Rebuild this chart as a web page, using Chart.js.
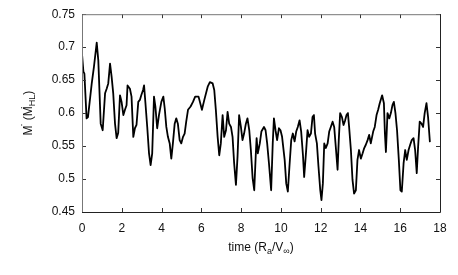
<!DOCTYPE html>
<html>
<head>
<meta charset="utf-8">
<script src="https://cdn.jsdelivr.net/npm/chart.js@4/dist/chart.umd.min.js"></script>
<style>
html, body { margin: 0; padding: 0; background: #fff; }
#wrap { width: 458px; height: 275px; }
</style>
</head>
<body>
<div id="wrap"><canvas id="c"></canvas></div>
<script>
"use strict";

/*global Chart*/

// time in R_a / V_inf
var times = [0.00, 0.07, 0.12, 0.23, 0.30, 0.49, 0.60, 0.74, 0.82, 0.94, 1.04, 1.16, 1.24, 1.32, 1.41, 1.49,
    1.57, 1.66, 1.74, 1.82, 1.91, 1.99, 2.08, 2.16, 2.24, 2.29, 2.41, 2.49, 2.58, 2.66, 2.74, 2.83,
    2.91, 2.98, 3.07, 3.12, 3.19, 3.28, 3.37, 3.45, 3.53, 3.62, 3.69, 3.78, 3.87, 3.99, 4.09, 4.16,
    4.24, 4.32, 4.41, 4.49, 4.57, 4.66, 4.74, 4.82, 4.91, 4.99, 5.08, 5.16, 5.24, 5.33, 5.46, 5.58,
    5.69, 5.86, 6.03, 6.15, 6.32, 6.43, 6.57, 6.65, 6.73, 6.82, 6.90, 6.98, 7.07, 7.15, 7.24, 7.32,
    7.40, 7.49, 7.57, 7.65, 7.74, 7.82, 7.90, 7.99, 8.07, 8.15, 8.24, 8.32, 8.41, 8.49, 8.58, 8.66,
    8.74, 8.78, 8.84, 8.94, 9.02, 9.15, 9.23, 9.31, 9.40, 9.51, 9.59, 9.65, 9.73, 9.81, 9.90, 9.98,
    10.06, 10.19, 10.27, 10.35, 10.43, 10.52, 10.60, 10.69, 10.77, 10.85, 10.94, 11.02, 11.11, 11.17,
    11.26, 11.34, 11.42, 11.51, 11.59, 11.66, 11.72, 11.81, 11.89, 11.98, 12.04, 12.11, 12.18, 12.26,
    12.35, 12.43, 12.51, 12.60, 12.68, 12.76, 12.85, 12.91, 12.98, 13.07, 13.15, 13.23, 13.30, 13.37,
    13.43, 13.52, 13.60, 13.68, 13.77, 13.85, 13.93, 14.02, 14.11, 14.19, 14.27, 14.36, 14.44, 14.52,
    14.64, 14.72, 14.81, 14.89, 14.97, 15.09, 15.18, 15.23, 15.28, 15.36, 15.45, 15.53, 15.61, 15.68,
    15.76, 15.84, 15.93, 16.01, 16.08, 16.17, 16.25, 16.33, 16.42, 16.50, 16.58, 16.67, 16.75, 16.83,
    16.90, 16.98, 17.07, 17.15, 17.23, 17.32, 17.40, 17.49];

// accretion rate in units of the Hoyle-Lyttleton rate
var mdot = [0.690, 0.663, 0.660, 0.592, 0.594, 0.645, 0.670, 0.707, 0.680, 0.584, 0.574, 0.630, 0.637, 0.645, 0.675, 0.655,
    0.630, 0.584, 0.562, 0.570, 0.627, 0.617, 0.597, 0.605, 0.612, 0.642, 0.637, 0.625, 0.564, 0.577, 0.582, 0.617,
    0.620, 0.627, 0.635, 0.642, 0.615, 0.579, 0.539, 0.521, 0.539, 0.625, 0.610, 0.577, 0.597, 0.617, 0.625, 0.607,
    0.579, 0.564, 0.554, 0.531, 0.554, 0.584, 0.592, 0.584, 0.559, 0.554, 0.564, 0.569, 0.587, 0.605, 0.610, 0.617,
    0.625, 0.625, 0.605, 0.620, 0.640, 0.647, 0.645, 0.635, 0.605, 0.564, 0.536, 0.554, 0.597, 0.564, 0.574, 0.602,
    0.584, 0.579, 0.564, 0.524, 0.491, 0.534, 0.597, 0.579, 0.559, 0.569, 0.584, 0.592, 0.574, 0.544, 0.501, 0.483,
    0.539, 0.562, 0.539, 0.554, 0.572, 0.579, 0.574, 0.554, 0.524, 0.483, 0.554, 0.592, 0.574, 0.559, 0.577, 0.574,
    0.564, 0.529, 0.493, 0.481, 0.519, 0.559, 0.569, 0.557, 0.572, 0.579, 0.589, 0.572, 0.536, 0.503,
    0.539, 0.574, 0.564, 0.569, 0.594, 0.597, 0.569, 0.554, 0.519, 0.483, 0.468, 0.493, 0.554, 0.547,
    0.554, 0.572, 0.579, 0.587, 0.579, 0.549, 0.514, 0.559, 0.600, 0.594, 0.582, 0.589, 0.597, 0.600,
    0.579, 0.544, 0.499, 0.478, 0.483, 0.529, 0.544, 0.531, 0.539, 0.547, 0.552, 0.559, 0.567, 0.554,
    0.572, 0.579, 0.597, 0.605, 0.615, 0.627, 0.615, 0.569, 0.541, 0.600, 0.592, 0.600, 0.612, 0.617,
    0.600, 0.574, 0.529, 0.483, 0.481, 0.524, 0.544, 0.529, 0.544, 0.552, 0.559, 0.562, 0.544, 0.509,
    0.549, 0.587, 0.584, 0.579, 0.600, 0.615, 0.594, 0.557];

var xTicks = [0, 2, 4, 6, 8, 10, 12, 14, 16, 18];
var yTicks = [0.45, 0.5, 0.55, 0.6, 0.65, 0.7, 0.75];

var points = times.map(function (t, i) {
    return {x: t, y: mdot[i]};
});

// draws text made of pieces, some of them sub/superscripts, centred on (cx, cy)
var richText = function (ctx, parts, cx, cy) {
    var total = 0;
    parts.forEach(function (p) {
        ctx.font = (p.sub ? '9px' : '12px') + ' "Liberation Sans", Arial, sans-serif';
        p.w = p.adv !== undefined ? p.adv : ctx.measureText(p.t).width;
        total += p.w;
    });
    var x = cx - total / 2;
    ctx.textAlign = 'left';
    ctx.textBaseline = 'middle';
    parts.forEach(function (p) {
        ctx.font = (p.sub ? '9px' : '12px') + ' "Liberation Sans", Arial, sans-serif';
        ctx.fillText(p.t, x + (p.dx || 0), cy + (p.sub ? 3.5 : 0) + (p.dy || 0));
        x += p.w;
    });
};

var framePlugin = {
    id: 'frame',
    afterDraw: function (chart) {
        var ctx = chart.ctx,
            area = chart.chartArea,
            xs = chart.scales.x,
            ys = chart.scales.y,
            len = 4;
        ctx.save();
        ctx.lineWidth = 1;
        // inward ticks on all four sides
        ctx.strokeStyle = '#333';
        ctx.beginPath();
        xTicks.forEach(function (v) {
            var px = Math.round(xs.getPixelForValue(v)) + 0.5;
            ctx.moveTo(px, area.bottom);
            ctx.lineTo(px, area.bottom - len);
            ctx.moveTo(px, area.top);
            ctx.lineTo(px, area.top + len);
        });
        yTicks.forEach(function (v) {
            var py = Math.round(ys.getPixelForValue(v)) + 0.5;
            ctx.moveTo(area.left, py);
            ctx.lineTo(area.left + len, py);
            ctx.moveTo(area.right, py);
            ctx.lineTo(area.right - len, py);
        });
        ctx.stroke();
        // box
        ctx.strokeStyle = '#777';
        ctx.beginPath();
        ctx.moveTo(area.left + 0.5, area.bottom);
        ctx.lineTo(area.left + 0.5, area.top + 0.5);
        ctx.lineTo(area.right, area.top + 0.5);
        ctx.stroke();
        ctx.strokeStyle = '#222';
        ctx.beginPath();
        ctx.moveTo(area.right + 0.5, area.top);
        ctx.lineTo(area.right + 0.5, area.bottom + 0.5);
        ctx.lineTo(area.left, area.bottom + 0.5);
        ctx.stroke();

        // axis titles
        ctx.fillStyle = '#111';
        richText(ctx, [
            {t: 'time (R'}, {t: 'a', sub: true}, {t: '/V'}, {t: '\u221e', sub: true}, {t: ')'}
        ], (area.left + area.right) / 2, 248);

        ctx.translate(29, (area.top + area.bottom) / 2);
        ctx.rotate(-Math.PI / 2);
        richText(ctx, [
            {t: 'M'}, {t: '\u02d9', adv: 2, dx: -1, dy: -2}, {t: ' (M'}, {t: '\u02d9', adv: 0, dx: -3, dy: -2},
            {t: 'HL', sub: true}, {t: ')'}
        ], 0, 0);
        ctx.restore();
    }
};

var chart = new Chart(document.getElementById('c'), {
    type: 'line',
    data: {
        datasets: [{
            data: points,
            borderColor: '#000',
            borderWidth: 1.8,
            borderJoinStyle: 'round',
            borderCapStyle: 'round',
            pointRadius: 0,
            tension: 0,
            fill: false
        }]
    },
    options: {
        responsive: true,
        maintainAspectRatio: false,
        animation: false,
        events: [],
        layout: {padding: {left: 0, right: 18, top: 14, bottom: 0}},
        plugins: {legend: {display: false}, tooltip: {enabled: false}},
        scales: {
            x: {
                type: 'linear',
                min: 0,
                max: 18,
                afterFit: function (s) { s.height = 63; },
                afterBuildTicks: function (s) {
                    s.ticks = xTicks.map(function (v) { return {value: v}; });
                },
                grid: {display: false, drawTicks: false},
                border: {display: false},
                ticks: {
                    padding: 9,
                    color: '#111',
                    font: {family: '"Liberation Sans", Arial, sans-serif', size: 12}
                }
            },
            y: {
                min: 0.45,
                max: 0.75,
                afterFit: function (s) { s.width = 82; },
                afterBuildTicks: function (s) {
                    s.ticks = yTicks.map(function (v) { return {value: v}; });
                },
                grid: {display: false, drawTicks: false},
                border: {display: false},
                ticks: {
                    padding: 7,
                    color: '#111',
                    font: {family: '"Liberation Sans", Arial, sans-serif', size: 12},
                    callback: function (v) { return String(Number(v.toFixed(2))); }
                }
            }
        }
    },
    plugins: [framePlugin]
});
</script>
</body>
</html>
